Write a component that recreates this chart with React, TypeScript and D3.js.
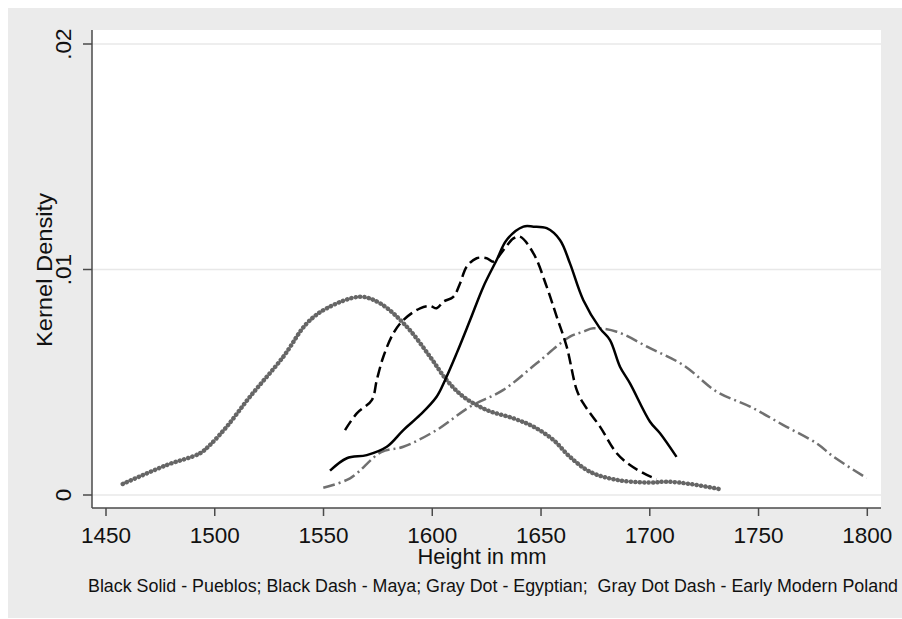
import React from "react";
import * as d3 from "d3";

const xTicks = [1450, 1500, 1550, 1600, 1650, 1700, 1750, 1800];
const yTicks = [0, 0.01, 0.02];
const yTickLabels = ["0", ".01", ".02"];

const pueblosX = [1553.0, 1560.7, 1569.9, 1579.1, 1586.7, 1594.4, 1602.0, 1605.9, 1611.2, 1617.4, 1623.5, 1629.6, 1634.2, 1641.9, 1646.5, 1652.6, 1658.7, 1663.3, 1669.4, 1677.1, 1681.7, 1686.3, 1690.9, 1700.1, 1704.7, 1712.3];
const pueblosY = [0.00108, 0.00163, 0.00177, 0.00214, 0.00288, 0.00355, 0.00436, 0.0051, 0.00628, 0.00776, 0.00924, 0.01042, 0.01131, 0.0119, 0.0119, 0.01183, 0.01131, 0.01027, 0.00865, 0.00739, 0.00687, 0.00569, 0.00495, 0.00325, 0.00274, 0.00169];

const mayaX = [1559.9, 1565.3, 1572.2, 1574.5, 1577.5, 1582.1, 1586.7, 1594.4, 1599.0, 1602.0, 1605.1, 1609.7, 1612.8, 1615.8, 1620.4, 1625.0, 1628.1, 1632.7, 1637.3, 1640.3, 1646.5, 1652.6, 1657.2, 1661.8, 1666.4, 1669.4, 1677.1, 1684.8, 1690.9, 1698.6, 1703.2];
const mayaY = [0.00288, 0.00362, 0.00421, 0.0051, 0.00613, 0.00717, 0.00776, 0.00828, 0.00838, 0.00828, 0.00857, 0.00879, 0.00939, 0.01012, 0.0105, 0.0105, 0.01035, 0.01086, 0.01138, 0.01146, 0.01072, 0.00924, 0.00791, 0.00658, 0.00466, 0.00407, 0.00303, 0.00185, 0.00133, 0.00089, 0.00071];

const egyptX = [1457.7, 1477.9, 1493.2, 1497.8, 1505.5, 1516.2, 1531.5, 1542.3, 1551.5, 1566.8, 1576.0, 1588.3, 1599.0, 1606.6, 1614.3, 1625.0, 1637.3, 1646.5, 1655.7, 1663.3, 1672.5, 1684.8, 1700.1, 1707.8, 1718.5, 1732.7];
const egyptY = [0.00049, 0.00133, 0.00185, 0.00222, 0.00303, 0.00436, 0.00613, 0.00761, 0.00828, 0.00879, 0.0085, 0.00746, 0.00613, 0.0051, 0.00436, 0.00377, 0.0034, 0.00303, 0.00244, 0.00169, 0.00103, 0.00067, 0.00055, 0.00059, 0.00049, 0.00025];

const polandX = [1549.9, 1562.2, 1576.5, 1586.7, 1602.0, 1617.4, 1632.7, 1648.0, 1663.3, 1669.4, 1674.0, 1684.8, 1700.1, 1715.4, 1730.8, 1746.1, 1761.4, 1776.7, 1784.4, 1799.7];
const polandY = [0.00032, 0.00074, 0.00190, 0.00214, 0.00288, 0.00392, 0.00466, 0.00584, 0.00702, 0.00724, 0.00739, 0.00724, 0.00651, 0.00576, 0.00458, 0.00392, 0.0031, 0.00229, 0.0017, 0.00075];

const xTitle = "Height in mm";
const yTitle = "Kernel Density";
const note = "Black Solid - Pueblos; Black Dash - Maya; Gray Dot - Egyptian;\u00a0\u00a0Gray Dot Dash - Early Modern Poland";

const W = 902;
const H = 619;
const plot = { left: 92, right: 881, top: 30, bottom: 508 };

export default function App() {
  const x = d3.scaleLinear().domain([1450, 1800]).range([106, 867.3]);
  const y = d3.scaleLinear().domain([0, 0.02]).range([495, 44]);
  const line = d3
    .line<[number, number]>()
    .x((d) => x(d[0]))
    .y((d) => y(d[1]))
    .curve(d3.curveCatmullRom.alpha(0.5));
  const zip = (a: number[], b: number[]) => a.map((v, i) => [v, b[i]] as [number, number]);
  const font = "'Liberation Sans', Arial, sans-serif";
  const axisCol = "#4a4a4a";
  return (
    <svg width={W} height={H} style={{ position: "absolute", left: 0, top: 0, background: "#fff" }}>
      <rect x={8} y={8} width={W - 8} height={H - 9} fill="#ebebeb" />
      <rect x={plot.left} y={plot.top} width={plot.right - plot.left} height={plot.bottom - plot.top} fill="#fff" />
      {yTicks.map((t) => (
        <line key={"g" + t} x1={plot.left} x2={plot.right} y1={y(t)} y2={y(t)} stroke="#e8e8e8" strokeWidth={1.5} />
      ))}
      <path d={line(zip(polandX, polandY)) || ""} fill="none" stroke="#707070" strokeWidth={2.5} strokeDasharray="12 4 2 4" />
      <path d={line(zip(egyptX, egyptY)) || ""} fill="none" stroke="#666" strokeWidth={4.5} strokeDasharray="0.1 4.3" strokeLinecap="round" />
      <path d={line(zip(mayaX, mayaY)) || ""} fill="none" stroke="#000" strokeWidth={2.5} strokeDasharray="11 5" />
      <path d={line(zip(pueblosX, pueblosY)) || ""} fill="none" stroke="#000" strokeWidth={2.5} />
      <line x1={plot.left} x2={plot.left} y1={plot.top} y2={plot.bottom} stroke={axisCol} strokeWidth={1.5} />
      <line x1={plot.left} x2={plot.right} y1={plot.bottom} y2={plot.bottom} stroke={axisCol} strokeWidth={1.5} />
      {xTicks.map((t) => (
        <g key={"x" + t}>
          <line x1={x(t)} x2={x(t)} y1={plot.bottom} y2={plot.bottom + 8} stroke={axisCol} strokeWidth={1.5} />
          <text x={x(t)} y={543} textAnchor="middle" fontFamily={font} fontSize={22.5} fill="#111">
            {t}
          </text>
        </g>
      ))}
      {yTicks.map((t, i) => (
        <g key={"y" + t}>
          <line x1={plot.left - 9} x2={plot.left} y1={y(t)} y2={y(t)} stroke={axisCol} strokeWidth={1.5} />
          <text
            transform={`translate(71,${y(t)}) rotate(-90)`}
            textAnchor="middle"
            fontFamily={font}
            fontSize={22.5}
            fill="#111"
          >
            {yTickLabels[i]}
          </text>
        </g>
      ))}
      <text x={482} y={564} textAnchor="middle" fontFamily={font} fontSize={22} fill="#111" textLength={129} lengthAdjust="spacingAndGlyphs">
        {xTitle}
      </text>
      <text transform={`translate(52,270) rotate(-90)`} textAnchor="middle" fontFamily={font} fontSize={22.5} fill="#111" textLength={154} lengthAdjust="spacingAndGlyphs">
        {yTitle}
      </text>
      <text x={88} y={592} fontFamily={font} fontSize={17.5} fill="#111" textLength={810} lengthAdjust="spacingAndGlyphs">
        {note}
      </text>
    </svg>
  );
}
